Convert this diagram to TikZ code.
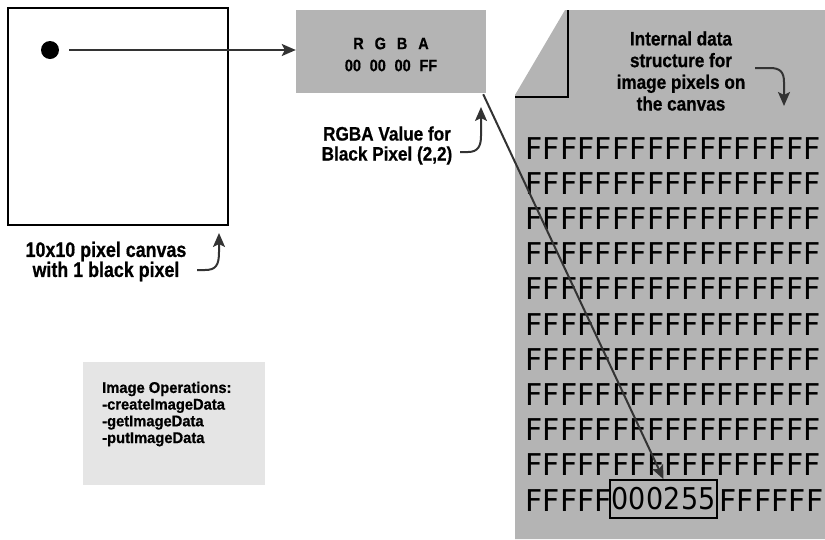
\documentclass[tikz,border=0pt]{standalone}
\usepackage{fontspec}
\setmainfont{Liberation Sans}[BoldFeatures={FakeBold=0.7}]
\newfontfamily\gridfont{DejaVu Sans}
\usetikzlibrary{arrows.meta}
\definecolor{boxgray}{RGB}{180,180,180}
\definecolor{opsgray}{RGB}{229,229,229}
\definecolor{arrowgray}{RGB}{51,51,51}
\newcommand\FF{\makebox[17.4pt]{F}}
\newcommand\Ffive{\FF\FF\FF\FF\FF}
\newcommand\Fseventeen{\Ffive\Ffive\Ffive\FF\FF}
\newcommand\DG[1]{\makebox[17.4pt]{\scalebox{0.9}[1]{#1}}}
\newcommand\nar[1]{\scalebox{0.88}[1]{#1}}
\begin{document}
\begin{tikzpicture}[x=1pt,y=-1pt,
  arr/.style={draw=arrowgray,line width=2pt,-{Stealth[length=14pt,width=12pt,inset=3pt]}},
  lbl/.style={font=\fontsize{19.5}{20}\selectfont\bfseries,align=center,inner sep=0pt},
  gridrow/.style={font=\gridfont\fontsize{30}{30}\selectfont,inner sep=0pt,anchor=base west},
]
\useasboundingbox (0,0) rectangle (825,539);

% canvas
\node[draw=black,line width=2pt,minimum width=220pt,minimum height=217pt,inner sep=0pt] (canvas) at (118,116.5) {};
\node[circle,fill=black,minimum size=18pt,inner sep=0pt] (dot) at (50,50) {};
\node[lbl,font=\fontsize{21}{20}\selectfont\bfseries] (clab) at (106,261.5) {\scalebox{0.85}[1]{10x10 pixel canvas}\\\scalebox{0.85}[1]{with 1 black pixel}};
\coordinate (ca0) at (197,270);
\coordinate (ca1) at (219,233);
\draw[arr] (ca0) -- (205,270) .. controls (216,270) and (219,265) .. (219,252) -- (ca1);

% RGBA box
\node[fill=boxgray,minimum width=190pt,minimum height=83pt,inner sep=0pt] (rgba) at (391,51.5) {};
\node[inner sep=0pt,align=center,font=\fontsize{16.5}{22}\selectfont\bfseries] (rgbatxt) at (391,54.5)
  {\nar{R\hspace{0.75em}G\hspace{0.75em}B\hspace{0.75em}A}\\\nar{00\hspace{0.6em}00\hspace{0.6em}00\hspace{0.6em}FF}};
\draw[arr] ([xshift=10pt]dot.east) -- (rgba.west |- dot.east);

\node[lbl] (rlab) at (387,145.5) {\nar{RGBA Value for}\\\nar{Black Pixel (2,2)}};
\coordinate (ra0) at (460,152);
\coordinate (ra1) at (481,107);
\draw[arr] (ra0) -- (468,152) .. controls (478,152) and (481,146) .. (481,136) -- (ra1);

% document
\fill[boxgray] (565,10) -- (825,10) -- (825,539) -- (515,539) -- (515,95) -- cycle;
\draw[black,line width=2pt] (568,10) -- (568,97) -- (515,97);
\node[lbl,font=\fontsize{19.5}{21.7}\selectfont\bfseries] (ilab) at (681,71) {\nar{Internal data}\\\nar{structure for}\\\nar{image pixels on}\\\nar{the canvas}};
\coordinate (ia0) at (755,68);
\coordinate (ia1) at (784,106);
\draw[arr] (ia0) -- (770,68) .. controls (780,68) and (784,72) .. (784,82) -- (ia1);

\foreach \i in {1,...,10}
  \node[gridrow] (row\i) at (525,{159+35.2*(\i-1)}) {\Fseventeen};
\node[gridrow] (row11a) at (525,511) {\Ffive};
\node[draw=black,line width=1.6pt,minimum width=107pt,minimum height=38pt,inner sep=0pt,
      font=\gridfont\fontsize{30}{30}\selectfont] (code) at (663.5,499)
  {\DG0\DG0\DG0\DG2\DG5\DG5};
\node[gridrow] (row11b) at (719,511) {\Ffive\FF};

\draw[arr] ([xshift=-3pt,yshift=-1pt]rgba.south east) -- (code.north);

% operations box
\node[fill=opsgray,minimum width=182pt,minimum height=123pt,inner sep=0pt] (ops) at (174,423.5) {};
\node[inner sep=0pt,align=left,font=\fontsize{15.5}{16.7}\selectfont\bfseries,anchor=west] (opstxt) at (102,414)
  {\scalebox{0.95}[1]{Image Operations:}\\\scalebox{0.95}[1]{-createImageData}\\\scalebox{0.95}[1]{-getImageData}\\\scalebox{0.95}[1]{-putImageData}};
\end{tikzpicture}
\end{document}
